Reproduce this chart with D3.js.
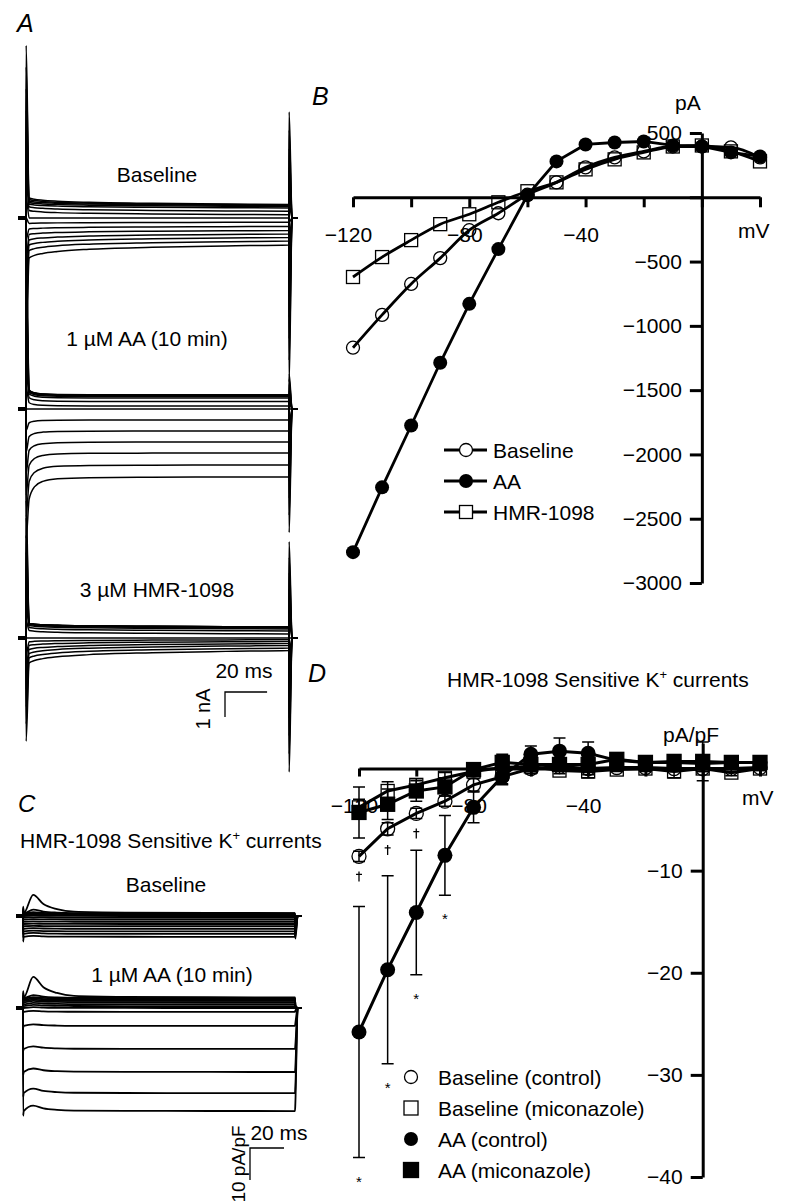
<!DOCTYPE html>
<html>
<head>
<meta charset="utf-8">
<script src="https://cdn.jsdelivr.net/npm/d3@7"></script>
<style>
body { margin: 0; background: #fff; }
svg text { font-family: "Liberation Sans", Arial, Helvetica, sans-serif; fill: #000; }
</style>
</head>
<body>
<svg id="fig" width="785" height="1204"></svg>
<script>
// step potentials (mV), shared by every panel
var voltages = [-120, -110, -100, -90, -80, -70, -60, -50, -40, -30, -20, -10, 0, 10, 20];

// panel B: whole-cell I-V (pA)
var baselineB = [-1170, -915, -674, -473, -256, -124, 20, 116, 233, 310, 357, 395, 395, 388, 310];
var aaB       = [-2760, -2256, -1775, -1287, -829, -403, 15, 279, 411, 426, 434, 403, 395, 349, 318];
var hmrB      = [-620, -465, -333, -209, -132, -39, 47, 116, 217, 295, 349, 395, 403, 357, 279];
var yTicksB = [500, 0, -500, -1000, -1500, -2000, -2500, -3000];
var xTicks = [-120, -100, -80, -60, -40, -20, 0, 20];
var xLabelled = [-120, -80, -40];

// panel D: HMR-1098 sensitive current density (pA/pF), mean and SE
var baseCtrlD  = [-8.6, -5.9, -4.4, -3.2, -1.6, -0.8, 0.0, 0.2, 0.0, 0.1, 0.1, 0.0, 0.0, 0.0, 0.1];
var baseCtrlSE = [0.5, 0.6, 0.5, 0.5, 0.6, 0.7, 0.5, 0.4, 0.4, 0.3, 0.3, 0.3, 0.3, 0.3, 0.3];
var baseMicD   = [-3.8, -2.2, -1.6, -0.9, -0.3, 0.1, 0.2, -0.2, -0.3, -0.1, 0.0, -0.3, 0.0, -0.4, 0.0];
var baseMicSE  = [0.8, 0.9, 0.6, 0.5, 0.4, 0.3, 0.3, 0.3, 0.3, 0.2, 0.3, 0.6, 0.3, 0.3, 0.2];
var aaCtrlD    = [-25.8, -19.7, -14.1, -8.5, -3.8, -0.8, 1.4, 1.7, 1.5, 0.8, 0.6, 0.6, 0.5, 0.6, 0.6];
var aaCtrlSE   = [12.3, 9.2, 6.1, 3.9, 1.5, 0.8, 0.8, 1.3, 1.1, 0.5, 0.3, 0.3, 0.4, 0.3, 0.3];
var aaMicD     = [-4.3, -3.5, -2.2, -1.8, -0.1, 0.6, 0.4, 0.4, 0.4, 0.9, 0.6, 0.7, 0.7, 0.6, 0.6];
var aaMicSE    = [2.5, 1.5, 1.0, 0.9, 0.5, 0.8, 0.5, 0.5, 1.3, 0.4, 0.3, 0.4, 1.9, 0.3, 0.3];
var yTicksD = [0, -10, -20, -30, -40];
var daggerAt = [-120, -110, -100];
var starAt = [-120, -110, -100, -90];

// panel A: raw current traces (nA), steady level at pulse end and level just after the transient
var baseA_steady = [-1.08, -0.92, -0.78, -0.64, -0.5, -0.34, -0.17, 0, 0.13, 0.27, 0.4, 0.46, 0.5, 0.52, 0.54];
var baseA_init   = [-1.6, -1.3, -1.08, -0.88, -0.66, -0.44, -0.22, 0, 0.3, 0.45, 0.55, 0.62, 0.68, 0.74, 0.8];
var aaA_steady   = [-2.72, -2.24, -1.76, -1.32, -0.88, -0.44, 0, 0.12, 0.3, 0.44, 0.5, 0.54, 0.56, 0.56, 0.56];
var aaA_init     = [-3.6, -2.9, -2.25, -1.65, -1.1, -0.55, 0, 0.25, 0.45, 0.6, 0.66, 0.7, 0.72, 0.74, 0.76];
var hmrA_steady  = [-0.5, -0.4, -0.3, -0.22, -0.14, -0.07, 0, 0.16, 0.28, 0.36, 0.4, 0.42, 0.44, 0.44, 0.44];
var hmrA_init    = [-1.0, -0.8, -0.62, -0.46, -0.3, -0.15, 0, 0.3, 0.42, 0.5, 0.54, 0.56, 0.58, 0.58, 0.58];
var capOnA  = [6.9, 6.9, 5.5];   // transient at pulse onset for an 80 mV step (nA)
var capOffA = [7.1, 5.5, 5.8];   // transient at pulse end
var relaxT    = [1.5, 4, 8, 15, 30, 60, 95, 125];
var relaxSlow = [1, 0.8, 0.65, 0.5, 0.33, 0.18, 0.07, 0];
var relaxFast = [1, 0.45, 0.2, 0.08, 0.03, 0.01, 0, 0];

// panel C: HMR-1098 sensitive traces (pA/pF)
var baseC_steady = [-6.5, -5.6, -4.8, -4.0, -3.2, -2.5, -1.8, -1.1, -0.5, 0, 0.3, 0.5, 0.7, 0.8, 0.9];
var baseC_peak   = [-6.2, -5.3, -4.6, -3.8, -3.1, -2.4, -1.7, -1.0, -0.4, 0.1, 0.5, 0.8, 1.2, 2.0, 6.6];
var aaC_steady   = [-32.2, -26.6, -20, -12.8, -5.6, -1.2, 0, 0.6, 1.2, 1.8, 2.2, 2.6, 2.9, 3.1, 3.3];
var aaC_peak     = [-30.5, -25.2, -18.9, -12.0, -5.1, -0.9, 0.3, 1.0, 1.6, 2.2, 2.6, 3.0, 3.4, 4.0, 9.7];
var capOnC  = [2, 2];
var capOffC = [8, 3];
var relaxTC = [6, 12, 20, 30, 60, 110, 160];
var relaxC  = [1, 0.5, 0.22, 0.08, 0.03, 0.01, 0];

var svg = d3.select("#fig");

function label(x, y, s, size, anchor, italic) {
  return svg.append("text").attr("x", x).attr("y", y)
    .attr("font-size", size).attr("text-anchor", anchor || "start")
    .attr("font-style", italic ? "italic" : null).text(s);
}
function kTitle(x, y) {
  var t = svg.append("text").attr("x", x).attr("y", y).attr("font-size", 21);
  t.append("tspan").text("HMR-1098 Sensitive K");
  t.append("tspan").attr("dy", -8).attr("font-size", 13).text("+");
  t.append("tspan").attr("dy", 8).text(" currents");
}

// ---------------- panel A ----------------
var xA = d3.scaleLinear().domain([0, 125]).range([26, 289]);
var zerosA = [218, 409, 638];
var groupsA = [[baseA_steady, baseA_init, relaxSlow], [aaA_steady, aaA_init, relaxFast], [hmrA_steady, hmrA_init, relaxSlow]];
var traceLine = d3.line().curve(d3.curveMonotoneX);

groupsA.forEach(function(grp, gi) {
  var yA = d3.scaleLinear().domain([0, 1]).range([zerosA[gi], zerosA[gi] - 25]);
  var g = svg.append("g");
  grp[0].forEach(function(s, i) {
    var step = (voltages[i] + 60) / 80;
    var pts = [[0, 0], [0.05, capOnA[gi] * step]];
    relaxT.forEach(function(t, j) { pts.push([t, s + (grp[1][i] - s) * grp[2][j]]); });
    pts.push([125.05, s - capOffA[gi] * step], [126.5, 0], [129, 0]);
    g.append("path")
      .attr("d", traceLine(pts.map(function(p) { return [xA(p[0]), yA(p[1])]; })))
      .attr("fill", "none").attr("stroke", "#000").attr("stroke-width", 1.5);
  });
  svg.append("line").attr("x1", 18).attr("x2", 25).attr("y1", yA(0)).attr("y2", yA(0))
    .attr("stroke", "#000").attr("stroke-width", 4);
});

label(17, 32, "A", 25, "start", true);
label(157, 182, "Baseline", 21, "middle");
label(147, 346, "1 µM AA (10 min)", 21, "middle");
label(157, 597, "3 µM HMR-1098", 21, "middle");

// scale bar A
var sbA = d3.path();
sbA.moveTo(225 + xA(20) - xA(0), 692); sbA.lineTo(225, 692); sbA.lineTo(225, 692 + 25);
svg.append("path").attr("d", sbA.toString()).attr("fill", "none").attr("stroke", "#000").attr("stroke-width", 1.3);
label(244, 678, "20 ms", 21, "middle");
label(0, 0, "1 nA", 20, "middle").attr("transform", "translate(210,709) rotate(-90)");

// ---------------- panel C ----------------
var xC = d3.scaleLinear().domain([0, 160]).range([23, 295]);
var zerosC = [916, 1008];
var groupsC = [[baseC_steady, baseC_peak], [aaC_steady, aaC_peak]];
groupsC.forEach(function(grp, gi) {
  var yC = d3.scaleLinear().domain([0, 10]).range([zerosC[gi], zerosC[gi] - 32]);
  var g = svg.append("g");
  grp[0].forEach(function(s, i) {
    var step = (voltages[i] + 60) / 80;
    var pk = grp[1][i];
    var pts = [[0, 0], [0.1, s + capOnC[gi] * step], [0.4, s]];
    relaxTC.forEach(function(t, j) { pts.push([t, s + (pk - s) * relaxC[j]]); });
    pts.push([160.2, s - capOffC[gi] * step], [161.6, 0], [164, 0]);
    g.append("path")
      .attr("d", traceLine(pts.map(function(p) { return [xC(p[0]), yC(p[1])]; })))
      .attr("fill", "none").attr("stroke", "#000").attr("stroke-width", 1.8);
  });
  svg.append("line").attr("x1", 16).attr("x2", 23).attr("y1", yC(0)).attr("y2", yC(0))
    .attr("stroke", "#000").attr("stroke-width", 4);
});

label(18, 812, "C", 24, "start", true);
kTitle(20, 848);
label(166, 892, "Baseline", 21, "middle");
label(172, 982, "1 µM AA (10 min)", 21, "middle");

var sbC = d3.path();
sbC.moveTo(250 + xC(20) - xC(0), 1148); sbC.lineTo(250, 1148); sbC.lineTo(250, 1148 + 32);
svg.append("path").attr("d", sbC.toString()).attr("fill", "none").attr("stroke", "#000").attr("stroke-width", 1.3);
label(279, 1140, "20 ms", 21, "middle");
label(0, 0, "10 pA/pF", 19, "middle").attr("transform", "translate(245,1164) rotate(-90)");

// ---------------- shared helpers ----------------
function styleAxis(g) {
  g.select(".domain").attr("stroke-width", 3);
  g.selectAll(".tick line").attr("stroke-width", 3);
  g.selectAll("text").attr("font-size", 21).attr("font-family", null);
}
function openCircle(g, x, y, r, fill) {
  g.append("circle").attr("cx", x).attr("cy", y).attr("r", r)
    .attr("fill", fill).attr("stroke", "#000").attr("stroke-width", 1.3);
}
function square(g, x, y, s, fill, filled) {
  g.append("rect").attr("x", x - s / 2).attr("y", y - s / 2).attr("width", s).attr("height", s)
    .attr("fill", filled ? "#000" : fill).attr("stroke", "#000").attr("stroke-width", 1.3);
}

// ---------------- panel B ----------------
var xB = d3.scaleLinear().domain([-120, 20]).range([353, 760]);
var yB = d3.scaleLinear().domain([-3000, 500]).range([583, 133]);

var gxB = svg.append("g").attr("transform", "translate(0," + yB(0) + ")")
  .call(d3.axisBottom(xB).tickValues(xTicks).tickSize(10).tickSizeOuter(0).tickPadding(20)
    .tickFormat(function(d) { return xLabelled.indexOf(d) >= 0 ? d3.format("")(d) : ""; }));
styleAxis(gxB);
gxB.selectAll("text").attr("dx", -5);
var gyB = svg.append("g").attr("transform", "translate(" + xB(0) + ",0)")
  .call(d3.axisLeft(yB).tickValues(yTicksB).tickSize(12).tickSizeOuter(0).tickPadding(8)
    .tickFormat(function(d) { return d === 0 ? "" : d3.format("")(d); }));
styleAxis(gyB);
label(675, 110, "pA", 21);
label(738, 238, "mV", 21);
label(312, 105, "B", 25, "start", true);

var lineB = function(vals, curve) {
  return d3.line().curve(curve).x(function(d, i) { return xB(voltages[i]); }).y(function(d) { return yB(d); })(vals);
};
var gB = svg.append("g");
gB.append("path").attr("d", lineB(hmrB, d3.curveMonotoneX)).attr("fill", "none").attr("stroke", "#000").attr("stroke-width", 2.8);
gB.append("path").attr("d", lineB(baselineB, d3.curveMonotoneX)).attr("fill", "none").attr("stroke", "#000").attr("stroke-width", 2.8);
gB.append("path").attr("d", lineB(aaB, d3.curveLinear)).attr("fill", "none").attr("stroke", "#000").attr("stroke-width", 2.8);
hmrB.forEach(function(v, i) { square(gB, xB(voltages[i]), yB(v), 13, "none"); });
baselineB.forEach(function(v, i) { openCircle(gB, xB(voltages[i]), yB(v), 6.5, "none"); });
aaB.forEach(function(v, i) { gB.append("circle").attr("cx", xB(voltages[i])).attr("cy", yB(v)).attr("r", 7).attr("fill", "#000"); });

// legend B
var legB = [["Baseline", "oc"], ["AA", "fc"], ["HMR-1098", "os"]];
legB.forEach(function(d, i) {
  var y = 450 + i * 31;
  svg.append("line").attr("x1", 444).attr("x2", 487).attr("y1", y).attr("y2", y).attr("stroke", "#000").attr("stroke-width", 2.8);
  if (d[1] === "oc") openCircle(svg, 466, y, 6.5, "#fff");
  else if (d[1] === "fc") svg.append("circle").attr("cx", 466).attr("cy", y).attr("r", 7).attr("fill", "#000");
  else square(svg, 466, y, 13, "#fff");
  label(493, y + 8, d[0], 21);
});

// ---------------- panel D ----------------
var xD = d3.scaleLinear().domain([-120, 20]).range([359, 760]);
var yD = d3.scaleLinear().domain([-40, 2.5]).range([1177, 743]);

var gxD = svg.append("g").attr("transform", "translate(0," + yD(0) + ")")
  .call(d3.axisBottom(xD).tickValues(xTicks).tickSize(8).tickSizeOuter(0).tickPadding(22)
    .tickFormat(function(d) { return xLabelled.indexOf(d) >= 0 ? d3.format("")(d) : ""; }));
styleAxis(gxD);
gxD.selectAll("text").attr("dx", -5);
var gyD = svg.append("g").attr("transform", "translate(" + xD(0) + ",0)")
  .call(d3.axisLeft(yD).tickValues(yTicksD).tickSize(12).tickSizeOuter(0).tickPadding(8)
    .tickFormat(function(d) { return d === 0 ? "" : d3.format("")(d); }));
styleAxis(gyD);
label(663, 742, "pA/pF", 21);
label(742, 805, "mV", 21);
label(308, 682, "D", 25, "start", true);
kTitle(447, 687);

var seriesD = [
  { m: baseMicD, se: baseMicSE, shape: "os" },
  { m: baseCtrlD, se: baseCtrlSE, shape: "oc" },
  { m: aaMicD, se: aaMicSE, shape: "fs" },
  { m: aaCtrlD, se: aaCtrlSE, shape: "fc" }
];
var gD = svg.append("g");
var lineD = d3.line().x(function(d, i) { return xD(voltages[i]); }).y(function(d) { return yD(d); });
seriesD.forEach(function(s) {
  gD.append("path").attr("d", lineD(s.m)).attr("fill", "none").attr("stroke", "#000").attr("stroke-width", 3);
});
seriesD.forEach(function(s) {
  s.m.forEach(function(v, i) {
    var x = xD(voltages[i]), y0 = yD(v - s.se[i]), y1 = yD(v + s.se[i]);
    var p = d3.path();
    p.moveTo(x, y0); p.lineTo(x, y1);
    p.moveTo(x - 6, y0); p.lineTo(x + 6, y0);
    p.moveTo(x - 6, y1); p.lineTo(x + 6, y1);
    gD.append("path").attr("d", p.toString()).attr("stroke", "#000").attr("stroke-width", 1.5).attr("fill", "none");
  });
});
seriesD.forEach(function(s) {
  s.m.forEach(function(v, i) {
    var x = xD(voltages[i]), y = yD(v);
    if (s.shape === "os") square(gD, x, y, 13, "none");
    else if (s.shape === "oc") openCircle(gD, x, y, 7, "none");
    else if (s.shape === "fs") square(gD, x, y, 14, "#000", true);
    else gD.append("circle").attr("cx", x).attr("cy", y).attr("r", 7.5).attr("fill", "#000");
  });
});

// significance marks: daggers (baseline vs miconazole) drawn as small crosses, asterisks as text
daggerAt.forEach(function(v) {
  var i = voltages.indexOf(v);
  var x = xD(v), yc = yD(baseCtrlD[i] - baseCtrlSE[i]) + 15;
  var p = d3.path();
  p.moveTo(x, yc - 5); p.lineTo(x, yc + 5);
  p.moveTo(x - 3, yc - 2); p.lineTo(x + 3, yc - 2);
  gD.append("path").attr("d", p.toString()).attr("stroke", "#000").attr("stroke-width", 1.3).attr("fill", "none");
});
starAt.forEach(function(v) {
  var i = voltages.indexOf(v);
  label(xD(v), yD(aaCtrlD[i] - aaCtrlSE[i]) + 29, "*", 15, "middle");
});

// legend D
var legD = [["Baseline (control)", "oc"], ["Baseline (miconazole)", "os"], ["AA (control)", "fc"], ["AA (miconazole)", "fs"]];
legD.forEach(function(d, i) {
  var y = 1077 + i * 31;
  if (d[1] === "oc") openCircle(svg, 411, y, 6.5, "#fff");
  else if (d[1] === "os") square(svg, 411, y, 14, "#fff");
  else if (d[1] === "fc") svg.append("circle").attr("cx", 411).attr("cy", y).attr("r", 7).attr("fill", "#000");
  else square(svg, 411, y, 15, "#000", true);
  label(438, y + 8, d[0], 21);
});
</script>
</body>
</html>
